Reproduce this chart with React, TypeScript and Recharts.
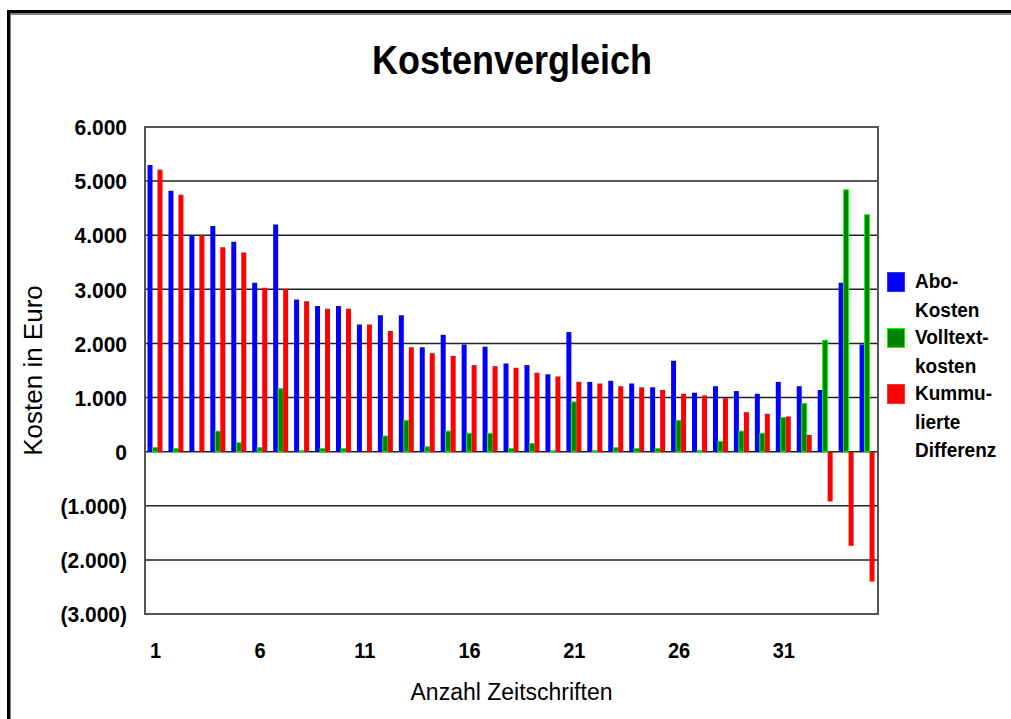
import { Bar, BarChart, CartesianGrid, Label, Legend, ReferenceArea, XAxis, YAxis } from 'recharts';

const issues = [
  1, 2, 3, 4, 5, 6, 7, 8, 9, 10, 11, 12, 13, 14, 15, 16, 17, 18, 19, 20, 21, 22, 23, 24, 25, 26, 27, 28, 29,
  30, 31, 32, 33, 34, 35,
];

const aboKosten = [
  5300, 4820, 4000, 4170, 3880, 3120, 4200, 2810, 2690, 2690, 2350, 2520, 2520, 1930, 2160, 1980, 1940, 1630,
  1600, 1430, 2210, 1290, 1310, 1260, 1190, 1680, 1090, 1210, 1120, 1070, 1290, 1210, 1140, 3120, 1980,
];

const volltextKosten = [
  75, 60, 0, 380, 165, 75, 1165, 20, 60, 60, 0, 290, 580, 90, 380, 340, 340, 60, 150, 20, 920, 20, 75, 60, 60,
  580, 20, 190, 380, 340, 630, 890, 2060, 4840, 4380,
];

const kumDifferenz = [
  5210, 4750, 4000, 3780, 3680, 3030, 3010, 2780, 2640, 2640, 2350, 2230, 1930, 1820, 1770, 1600, 1580, 1550,
  1460, 1390, 1290, 1260, 1210, 1190, 1140, 1070, 1040, 990, 730, 700, 650, 310, -920, -1740, -2400,
];

const yTicks = [-3000, -2000, -1000, 0, 1000, 2000, 3000, 4000, 5000, 6000];

const legendItems = [
  { color: '#0000ff', border: '#3333ff', lines: ['Abo-', 'Kosten'] },
  { color: '#008000', border: '#00ff00', lines: ['Volltext-', 'kosten'] },
  { color: '#ff0000', border: '#ff3333', lines: ['Kummu-', 'lierte', 'Differenz'] },
];

const data = issues.map((n, i) => ({
  n,
  abo: aboKosten[i],
  volltext: volltextKosten[i],
  diff: kumDifferenz[i],
}));

const FONT = '"Liberation Sans", Arial, sans-serif';

const fmt = (v: number) => {
  const s = Math.abs(v).toLocaleString('de-DE');
  return v < 0 ? `(${s})` : s;
};

function YTick({ x, y, payload }: any) {
  return (
    <text
      transform={`translate(${x},${y}) scale(1,1.08)`}
      dy="0.36em"
      textAnchor="end"
      fontSize={21}
      fontWeight="bold"
      fill="#000"
      fontFamily={FONT}
    >
      {fmt(payload.value)}
    </text>
  );
}

function XTick({ x, y, payload }: any) {
  return (
    <text
      transform={`translate(${x},${y}) scale(1,1.12)`}
      dy="0.36em"
      textAnchor="middle"
      fontSize={20}
      fontWeight="bold"
      fill="#000"
      fontFamily={FONT}
    >
      {payload.value}
    </text>
  );
}

function LegendBox() {
  return (
    <div style={{ fontFamily: FONT, fontWeight: 'bold', fontSize: 19, color: '#000', textAlign: 'left' }}>
      {legendItems.map((it) => (
        <div key={it.lines[0]} style={{ display: 'flex', alignItems: 'flex-start', marginBottom: 4 }}>
          <span
            style={{
              display: 'inline-block',
              flex: 'none',
              width: 16,
              height: 18,
              marginTop: 5,
              marginRight: 10,
              background: it.color,
              border: `1px solid ${it.border}`,
            }}
          />
          <div style={{ lineHeight: '26px', transform: 'scaleY(1.1)', transformOrigin: 'top left' }}>
            {it.lines.map((l) => (
              <div key={l}>{l}</div>
            ))}
          </div>
        </div>
      ))}
    </div>
  );
}

export default function App() {
  return (
    <div style={{ position: 'absolute', left: 0, top: 0, width: 1011, height: 719, overflow: 'hidden', background: '#fff' }}>
      <div
        style={{
          position: 'absolute',
          left: 7,
          top: 10,
          width: 1100,
          height: 800,
          borderTop: '3px solid #000',
          borderLeft: '3px solid #000',
        }}
      >
        <div style={{ width: '100%', height: '100%', borderTop: '2px solid #808080', borderLeft: '1px solid #808080' }} />
      </div>
      <div
        style={{
          position: 'absolute',
          left: 0,
          width: 1024,
          top: 36,
          textAlign: 'center',
          fontFamily: FONT,
          fontWeight: 'bold',
          fontSize: 36,
          color: '#000',
          transform: 'scaleY(1.15)',
          transformOrigin: 'top',
        }}
      >
        Kostenvergleich
      </div>
      <div style={{ position: 'absolute', left: 0, top: 0 }}>
        <BarChart
          width={1011}
          height={719}
          data={data}
          margin={{ top: 127, right: 133, bottom: 45, left: 0 }}
          barCategoryGap={2.5}
          barGap={0}
        >
          <CartesianGrid vertical={false} stroke="#222" strokeWidth={1.5} />
          <ReferenceArea y1={-3000} y2={6000} fill="none" stroke="#555" strokeWidth={2} ifOverflow="visible" />
          <XAxis
            dataKey="n"
            interval={4}
            tickLine={false}
            axisLine={false}
            tickSize={0}
            tickMargin={36}
            height={60}
            tick={<XTick />}
          >
            <Label
              value="Anzahl Zeitschriften"
              position="bottom"
              offset={10}
              style={{ fontFamily: FONT, fontSize: 23, fill: '#000' }}
            />
          </XAxis>
          <YAxis
            width={145}
            domain={[-3000, 6000]}
            ticks={yTicks}
            allowDataOverflow
            tickLine={false}
            axisLine={false}
            tickSize={0}
            tickMargin={18}
            tick={<YTick />}
          >
            <Label
              value="Kosten in Euro"
              angle={-90}
              position="insideLeft"
              offset={33}
              style={{ fontFamily: FONT, fontSize: 26, fill: '#000', textAnchor: 'middle' }}
            />
          </YAxis>
          <Legend
            verticalAlign="middle"
            align="center"
            layout="horizontal"
            content={<LegendBox />}
            wrapperStyle={{ left: 887, top: 267, right: 'auto', width: 124 }}
          />
          <Bar dataKey="abo" name="Abo-Kosten" fill="#0000ff" isAnimationActive={false} />
          <Bar dataKey="volltext" name="Volltextkosten" fill="#008000" stroke="#00ff00" strokeWidth={1} isAnimationActive={false} />
          <Bar dataKey="diff" name="Kummulierte Differenz" fill="#ff0000" isAnimationActive={false} />
        </BarChart>
      </div>
    </div>
  );
}
